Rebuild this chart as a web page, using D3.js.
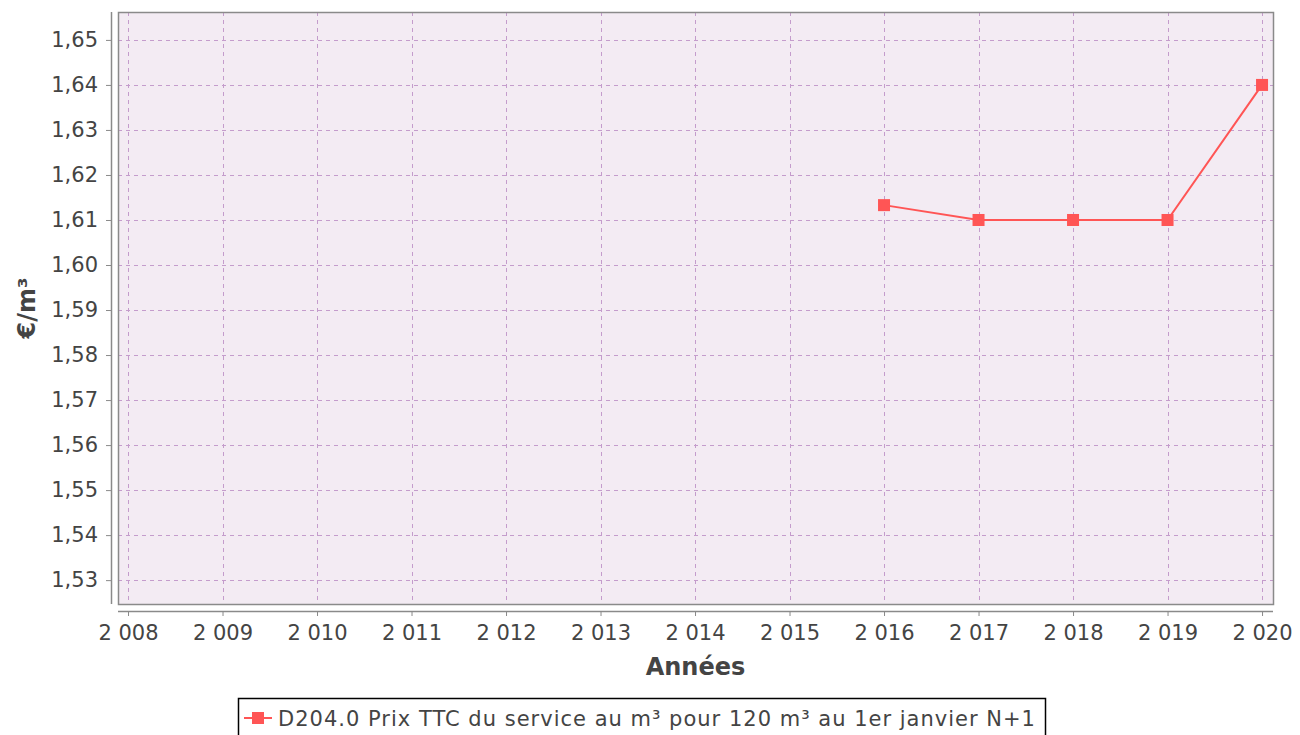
<!DOCTYPE html>
<html>
<head>
<meta charset="utf-8">
<script src="https://cdn.jsdelivr.net/npm/d3@7"></script>
<style>
  body { margin: 0; background: #fff; }
  text { font-family: "DejaVu Sans", sans-serif; fill: #444; }
</style>
</head>
<body>
<div id="chart"></div>
<script>
// data
const years = [2016, 2017, 2018, 2019, 2020]
const prices = [1.6133, 1.61, 1.61, 1.61, 1.64]
const yTicks = [1.53, 1.54, 1.55, 1.56, 1.57, 1.58, 1.59, 1.60, 1.61, 1.62, 1.63, 1.64, 1.65]
const xTicks = [2008, 2009, 2010, 2011, 2012, 2013, 2014, 2015, 2016, 2017, 2018, 2019, 2020]
const seriesName = 'D204.0 Prix TTC du service au m³ pour 120 m³ au 1er janvier N+1'

const W = 1300, H = 735
const plot = { left: 118, right: 1273, top: 12, bottom: 604 }

const svg = d3.select('#chart').append('svg')
  .attr('width', W).attr('height', H)

const x = d3.scaleLinear()
  .domain([2007.894, 2020.116])
  .range([plot.left, plot.right])
const y = d3.scaleLinear()
  .domain([1.5247, 1.6562])
  .range([plot.bottom, plot.top])

const fmtY = d => d3.format('.2f')(d).replace('.', ',')
const fmtX = d => String(d).replace(/^(\d)(\d{3})$/, '$1 $2')

// plot background
svg.append('rect')
  .attr('x', plot.left).attr('y', plot.top)
  .attr('width', plot.right - plot.left).attr('height', plot.bottom - plot.top)
  .attr('fill', '#f3ebf3')

// grid lines
const grid = svg.append('g')
  .attr('stroke', '#c49ccc')
  .attr('stroke-width', 1)
  .attr('stroke-dasharray', '4,4')
grid.selectAll('.gy').data(yTicks).enter().append('line')
  .attr('x1', plot.left).attr('x2', plot.right)
  .attr('y1', d => Math.round(y(d)) + 0.5).attr('y2', d => Math.round(y(d)) + 0.5)
grid.selectAll('.gx').data(xTicks).enter().append('line')
  .attr('y1', plot.top).attr('y2', plot.bottom)
  .attr('x1', d => Math.round(x(d)) + 0.5).attr('x2', d => Math.round(x(d)) + 0.5)

// plot border
svg.append('rect')
  .attr('x', plot.left + 0.5).attr('y', plot.top + 0.5)
  .attr('width', plot.right - plot.left).attr('height', plot.bottom - plot.top)
  .attr('fill', 'none').attr('stroke', '#8a8a8a').attr('stroke-width', 1.5)

// y axis, offset to the left of the plot
const yAxis = svg.append('g')
  .attr('transform', 'translate(111,0)')
  .call(d3.axisLeft(y).tickValues(yTicks).tickFormat(fmtY).tickSize(5).tickPadding(8))
yAxis.select('.domain').attr('stroke', '#8a8a8a').attr('stroke-width', 1.5)
  .attr('d', `M0.5,${plot.top}V${plot.bottom}`)
yAxis.selectAll('.tick line').attr('stroke', '#8a8a8a')
yAxis.selectAll('.tick text').attr('font-size', 21).attr('fill', '#4a4a4a')
  .style('font-family', '"DejaVu Sans", sans-serif')

// x axis, offset below the plot
const xAxis = svg.append('g')
  .attr('transform', 'translate(0,611)')
  .call(d3.axisBottom(x).tickValues(xTicks).tickFormat(fmtX).tickSize(5).tickPadding(9))
xAxis.select('.domain').attr('stroke', '#8a8a8a').attr('stroke-width', 1.5)
  .attr('d', `M${plot.left},0.5H${plot.right}`)
xAxis.selectAll('.tick line').attr('stroke', '#8a8a8a')
xAxis.selectAll('.tick text').attr('font-size', 21).attr('fill', '#4a4a4a')
  .style('font-family', '"DejaVu Sans", sans-serif')

// axis titles
svg.append('text')
  .attr('x', (plot.left + plot.right) / 2).attr('y', 675)
  .attr('text-anchor', 'middle')
  .attr('font-size', 24).attr('font-weight', 'bold')
  .text('Années')
svg.append('text')
  .attr('transform', `translate(35,${(plot.top + plot.bottom) / 2}) rotate(-90)`)
  .attr('text-anchor', 'middle')
  .attr('font-size', 24).attr('font-weight', 'bold')
  .text('€/m³')

// series
const color = '#ff5555'
svg.append('path')
  .datum(years.map((d, i) => [d, prices[i]]))
  .attr('fill', 'none')
  .attr('stroke', color).attr('stroke-width', 2)
  .attr('d', d3.line().x(d => x(d[0])).y(d => y(d[1])))
svg.selectAll('.pt').data(years).enter().append('rect')
  .attr('x', d => x(d) - 6).attr('y', (d, i) => y(prices[i]) - 6)
  .attr('width', 12).attr('height', 12)
  .attr('fill', color)

// legend
const legend = svg.append('g')
legend.append('rect')
  .attr('x', 238.5).attr('y', 698.5)
  .attr('width', 807).attr('height', 44)
  .attr('fill', '#fff').attr('stroke', '#000').attr('stroke-width', 1.5)
legend.append('line')
  .attr('x1', 244).attr('x2', 272).attr('y1', 718).attr('y2', 718)
  .attr('stroke', color).attr('stroke-width', 2)
legend.append('rect')
  .attr('x', 252).attr('y', 712).attr('width', 12).attr('height', 12)
  .attr('fill', color)
legend.append('text')
  .attr('x', 278).attr('y', 726)
  .attr('font-size', 21).attr('fill', '#333')
  .attr('textLength', 757).attr('lengthAdjust', 'spacing')
  .text(seriesName)
</script>
</body>
</html>
